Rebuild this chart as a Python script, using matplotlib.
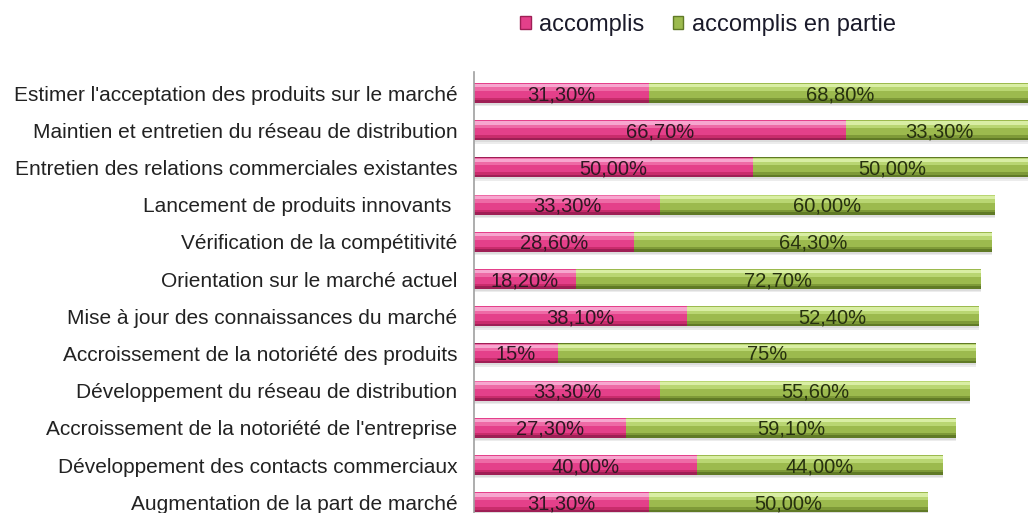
import matplotlib
matplotlib.use("Agg")
import matplotlib.pyplot as plt
from matplotlib.patches import Patch
import numpy as np

plt.rcParams['font.family'] = ['Liberation Sans', 'DejaVu Sans']

categories = [
    "Estimer l'acceptation des produits sur le marché",
    "Maintien et entretien du réseau de distribution",
    "Entretien des relations commerciales existantes",
    "Lancement de produits innovants ",
    "Vérification de la compétitivité",
    "Orientation sur le marché actuel",
    "Mise à jour des connaissances du marché",
    "Accroissement de la notoriété des produits",
    "Développement du réseau de distribution",
    "Accroissement de la notoriété de l'entreprise",
    "Développement des contacts commerciaux",
    "Augmentation de la part de marché",
]
accomplis = [31.3, 66.7, 50.0, 33.3, 28.6, 18.2, 38.1, 15.0, 33.3, 27.3, 40.0, 31.3]
en_partie = [68.8, 33.3, 50.0, 60.0, 64.3, 72.7, 52.4, 75.0, 55.6, 59.1, 44.0, 50.0]
accomplis_labels = ["31,30%", "66,70%", "50,00%", "33,30%", "28,60%", "18,20%",
                    "38,10%", "15%", "33,30%", "27,30%", "40,00%", "31,30%"]
en_partie_labels = ["68,80%", "33,30%", "50,00%", "60,00%", "64,30%", "72,70%",
                    "52,40%", "75%", "55,60%", "59,10%", "44,00%", "50,00%"]
series_names = ["accomplis", "accomplis en partie"]

W, H = 1028, 513
fig = plt.figure(figsize=(W / 100, H / 100), dpi=100)
fig.patch.set_facecolor('white')

ax_left, ax_right = 474, 1032
ax_top, ax_bottom = 72, 513
ax = fig.add_axes([ax_left / W, 1 - ax_bottom / H, (ax_right - ax_left) / W, (ax_bottom - ax_top) / H])
ax.set_xlim(0, 100)
ax.set_ylim(11.29, -0.565)

y = np.arange(len(categories))
acc = np.array(accomplis)
par = np.array(en_partie)
h = 0.54

pink = ['#9E1F55', '#C92C6C', '#E4408A', '#EE6AA6', '#F7A6CF']
green = ['#607A26', '#7E9A38', '#9CBA4E', '#B9D672', '#D9EEA4']

# soft shadow
ax.barh(y + 0.09, acc + par, height=h, left=0, color='#ececec', zorder=1)
ax.barh(y + 0.05, acc + par, height=h, left=0, color='#dcdcdc', zorder=1)

def bevel_bar(values, left, cols):
    # layered bands from bottom (dark) to top (light) to mimic bevel
    ax.barh(y, values, height=h, left=left, color=cols[0], zorder=2)
    ax.barh(y - h * 0.06, values, height=h * 0.86, left=left, color=cols[1], zorder=3)
    ax.barh(y - h * 0.12, values, height=h * 0.74, left=left, color=cols[2], zorder=4)
    ax.barh(y - h * 0.28, values, height=h * 0.36, left=left, color=cols[3], zorder=5)
    ax.barh(y - h * 0.36, values, height=h * 0.16, left=left, color=cols[4], zorder=6)

bevel_bar(acc, 0, pink)
bevel_bar(par, acc, green)

for i in range(len(categories)):
    ax.text(acc[i] / 2, y[i] + 0.04, accomplis_labels[i], ha='center', va='center',
            fontsize=14.5, color='#2e1822', zorder=8)
    ax.text(acc[i] + par[i] / 2, y[i] + 0.04, en_partie_labels[i], ha='center', va='center',
            fontsize=14.5, color='#26300f', zorder=8)

ax.set_yticks(y)
ax.set_yticklabels(categories, fontsize=15, color='#222222')
ax.tick_params(axis='y', length=0, pad=12)
ax.set_xticks([])
for s in ['top', 'right', 'bottom']:
    ax.spines[s].set_visible(False)
ax.spines['left'].set_color('#a0a0a0')
ax.spines['left'].set_linewidth(1.2)
ax.spines['left'].set_zorder(9)

handles = [Patch(facecolor=pink[2], edgecolor=pink[0]),
           Patch(facecolor=green[2], edgecolor=green[0])]
fig.legend(handles, series_names, loc='center', bbox_to_anchor=(708 / W, 1 - 25 / H),
           ncol=2, frameon=False, fontsize=17, handlelength=0.45, handleheight=0.45,
           handletextpad=0.35, columnspacing=1.2, labelcolor='#1a1a2a')

fig.savefig('out.png', dpi=100, facecolor='white')
